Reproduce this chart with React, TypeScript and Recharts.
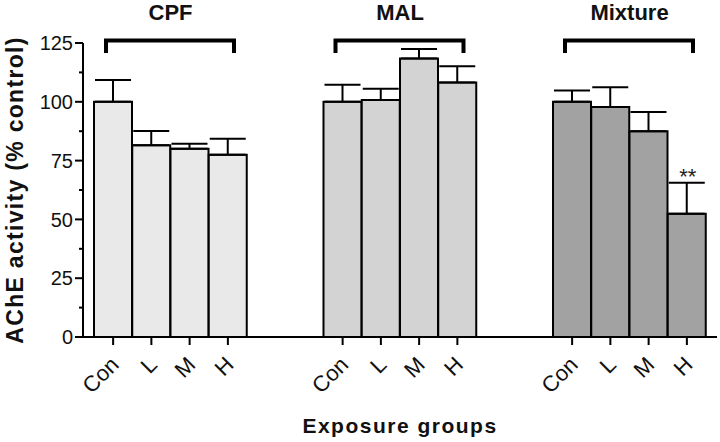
import { BarChart, Bar, XAxis, YAxis, Cell, ErrorBar, LabelList, ReferenceArea } from 'recharts';

const FONT = '"Liberation Sans", Arial, sans-serif';

// groups + dose levels
const groupNames = ['CPF', 'MAL', 'Mixture'];
const doses = ['Con', 'L', 'M', 'H'];

// mean ± SEM (% control)
const cpfMean = [100, 81.5, 80.0, 77.5];
const cpfSem = [9.3, 6.1, 2.2, 6.8];
const malMean = [100, 100.8, 118.4, 108.2];
const malSem = [7.2, 4.7, 4.0, 6.9];
const mixMean = [100, 97.8, 87.5, 52.4];
const mixSem = [4.8, 8.4, 8.2, 13.2];
const mixSig = ['', '', '', '**'];
const noSig = ['', '', '', ''];

const yTicks = [0, 12.5, 25, 37.5, 50, 62.5, 75, 87.5, 100, 112.5, 125];

const groupFills = ['#e9e9e9', '#d3d3d3', '#a2a2a2'];

const means = [cpfMean, malMean, mixMean];
const sems = [cpfSem, malSem, mixSem];
const sigs = [noSig, noSig, mixSig];

interface Row {
  key: string;
  label: string;
  group: number;
  mean?: number;
  sem?: number;
  err?: [number, number];
  sig?: string;
}

const rows: Row[] = [];
groupNames.forEach((_, g) => {
  doses.forEach((d, i) => {
    rows.push({
      key: `${g}-${i}`,
      label: d,
      group: g,
      mean: means[g][i],
      sem: sems[g][i],
      err: [0, sems[g][i]],
      sig: sigs[g][i],
    });
  });
  // two empty slots between the groups
  if (g < groupNames.length - 1) {
    rows.push({ key: `gap${g}a`, label: '', group: g });
    rows.push({ key: `gap${g}b`, label: '', group: g });
  }
});

const XTick = (props: any) => {
  const { x, y, payload } = props;
  const row = rows.find((r) => r.key === payload.value);
  if (!row || !row.label) return null;
  return (
    <g>
      <line x1={x} x2={x} y1={y} y2={y + 8} stroke="#000" strokeWidth={2} />
      <text
        transform={`translate(${x + 7},${y + 29}) rotate(-45)`}
        textAnchor="end"
        fontSize={22}
        fontFamily={FONT}
        fill="#111"
      >
        {row.label}
      </text>
    </g>
  );
};

const YTick = (props: any) => {
  const { x, y, payload } = props;
  const major = payload.value % 25 === 0;
  return (
    <g>
      <line x1={x - (major ? 8 : 4)} x2={x} y1={y} y2={y} stroke="#000" strokeWidth={2} />
      {major && (
        <text x={x - 10} y={y} dy="0.36em" textAnchor="end" fontSize={20} fontFamily={FONT} fill="#111">
          {payload.value}
        </text>
      )}
    </g>
  );
};

const Bracket = (props: any) => {
  const { x, y, width, height, name } = props;
  const l = x + 12;
  const r = x + width - 13;
  return (
    <g>
      <path d={`M${l},${y + height} V${y} H${r} V${y + height}`} fill="none" stroke="#000" strokeWidth={4} />
      <text x={x + width / 2} y={y - 20} textAnchor="middle" fontSize={22} fontWeight="bold" fontFamily={FONT} fill="#111">
        {name}
      </text>
    </g>
  );
};

const SigLabel = (props: any) => {
  const { value } = props;
  if (!value) return null;
  const vb = props.viewBox ?? props;
  const row = rows.find((r) => r.sig === value);
  if (!row || vb.x == null) return null;
  const h = Math.abs(vb.height);
  const barTop = Math.min(vb.y, vb.y + vb.height);
  const top = barTop - (row.sem! * h) / row.mean!;
  return (
    <text x={vb.x + vb.width / 2 + 1} y={top + 1} textAnchor="middle" fontSize={22} fontFamily={FONT} fill="#222">
      {value}
    </text>
  );
};

export default function App() {
  return (
    <div style={{ position: 'absolute', left: 0, top: 0, width: 720, height: 442, background: '#fff' }}>
      <BarChart
        width={720}
        height={442}
        data={rows}
        margin={{ top: 43, right: 3, bottom: 0, left: 0 }}
        barCategoryGap={0}
      >
        <XAxis
          dataKey="key"
          height={105}
          interval={0}
          padding={{ left: 11, right: 11 }}
          axisLine={{ stroke: '#000', strokeWidth: 2 }}
          tickLine={false}
          tickSize={0}
          tickMargin={0}
          tick={<XTick />}
          label={(p: any) => (
            <text
              x={p.viewBox.x + p.viewBox.width / 2}
              y={p.viewBox.y + 96}
              textAnchor="middle"
              fontSize={21}
              fontWeight="bold"
              letterSpacing={1.5}
              fontFamily={FONT}
              fill="#111"
            >
              Exposure groups
            </text>
          )}
        />
        <YAxis
          width={83}
          domain={[0, 125]}
          ticks={yTicks}
          interval={0}
          axisLine={{ stroke: '#000', strokeWidth: 2 }}
          tickLine={false}
          tickSize={0}
          tickMargin={0}
          tick={<YTick />}
          label={(p: any) => {
            const cx = p.viewBox.x + 15;
            const cy = p.viewBox.y + p.viewBox.height / 2;
            return (
              <text
                x={cx}
                y={cy}
                transform={`rotate(-90,${cx},${cy})`}
                textAnchor="middle"
                dominantBaseline="central"
                fontSize={23}
                fontWeight="bold"
                letterSpacing={1.3}
                fontFamily={FONT}
                fill="#111"
              >
                AChE activity (% control)
              </text>
            );
          }}
        />
        {groupNames.map((g, gi) => (
          <ReferenceArea
            key={g}
            x1={`${gi}-0`}
            x2={`${gi}-3`}
            y1={120.7}
            y2={126.1}
            ifOverflow="visible"
            shape={(p: any) => <Bracket {...p} name={g} />}
          />
        ))}
        <Bar dataKey="mean" stroke="#000" strokeWidth={2} isAnimationActive={false}>
          {rows.map((r) => (
            <Cell key={r.key} fill={groupFills[r.group]} />
          ))}
          <ErrorBar dataKey="err" width={18} stroke="#000" strokeWidth={2} direction="y" />
          <LabelList dataKey="sig" content={<SigLabel />} />
        </Bar>
      </BarChart>
    </div>
  );
}
